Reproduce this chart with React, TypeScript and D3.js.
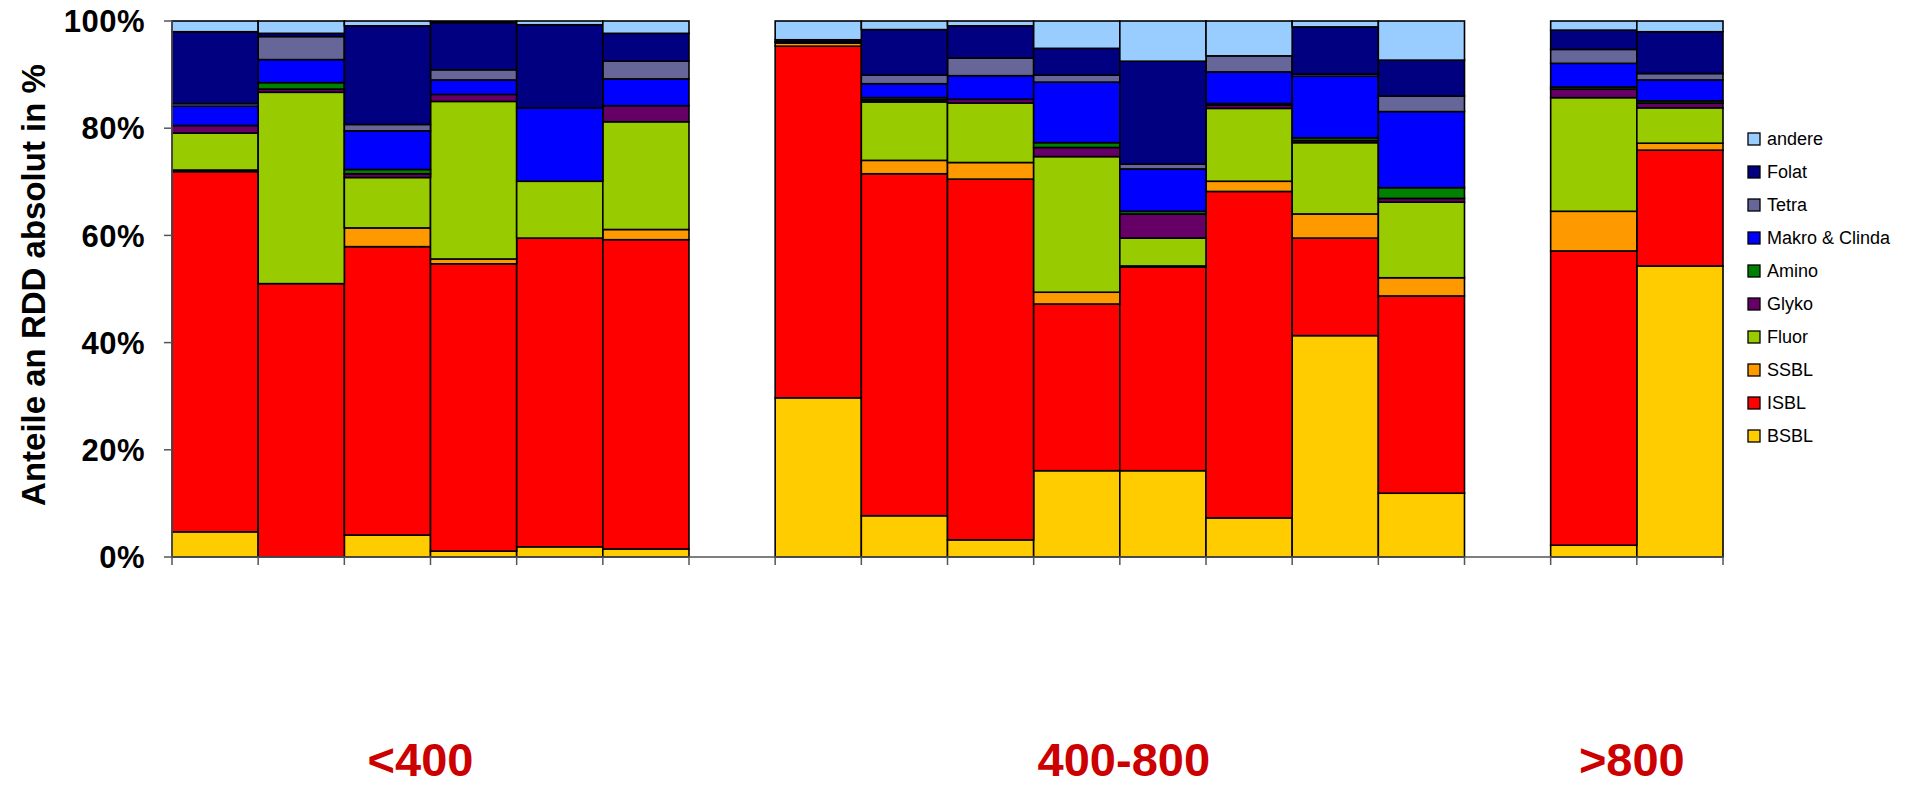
import React from "react";
import * as d3 from "d3";

// ---- data (share of RDD in %, per bar, bottom → top) ----
const groupLabels = ["<400", "400-800", ">800"];
const groupSizes = [6, 8, 2];

const seriesNames = ["BSBL", "ISBL", "SSBL", "Fluor", "Glyko", "Amino", "Makro & Clinda", "Tetra", "Folat", "andere"];
const seriesColors = ["#FFCC00", "#FF0000", "#FF9900", "#99CC00", "#660066", "#008000", "#0000FF", "#666699", "#000080", "#99CCFF"];

const BSBL = [4.7, 0, 4.1, 1.1, 1.9, 1.5, 29.7, 7.7, 3.2, 16.1, 16.1, 7.3, 41.3, 11.9, 2.2, 54.3];
const ISBL = [67.2, 51.0, 53.8, 53.6, 57.6, 57.7, 65.6, 63.8, 67.3, 31.1, 38.0, 60.9, 18.2, 36.8, 54.9, 21.6];
const SSBL = [0.3, 0, 3.5, 0.9, 0, 1.9, 0.6, 2.5, 3.1, 2.2, 0.2, 1.9, 4.5, 3.4, 7.4, 1.3];
const Fluor = [6.9, 35.7, 9.4, 29.4, 10.6, 20.1, 0.2, 10.9, 11.1, 25.3, 5.2, 13.6, 13.3, 14.1, 21.2, 6.6];
const Glyko = [1.4, 0.6, 0.7, 1.3, 0, 3.0, 0, 0.4, 0.7, 1.7, 4.5, 0.6, 0.4, 0.7, 1.6, 0.9];
const Amino = [0, 1.2, 0.8, 0, 0, 0, 0, 0.4, 0, 0.9, 0.5, 0.3, 0.5, 2.0, 0.4, 0.4];
const Makro = [3.6, 4.3, 7.2, 2.7, 13.7, 5.0, 0, 2.6, 4.4, 11.3, 7.9, 5.9, 11.5, 14.2, 4.4, 3.9];
const Tetra = [0.5, 4.3, 1.2, 1.9, 0, 3.3, 0, 1.6, 3.3, 1.3, 0.9, 3.0, 0.4, 2.9, 2.6, 1.2];
const Folat = [13.4, 0.6, 18.4, 8.8, 15.5, 5.2, 0.4, 8.5, 6.0, 5.0, 19.2, 0, 8.8, 6.7, 3.6, 7.8];
const andere = [2.0, 2.3, 0.9, 0.3, 0.7, 2.3, 3.5, 1.6, 0.9, 5.1, 7.5, 6.5, 1.1, 7.3, 1.7, 2.0];

const seriesValues = [BSBL, ISBL, SSBL, Fluor, Glyko, Amino, Makro, Tetra, Folat, andere];
const yTicks = [0, 0.2, 0.4, 0.6, 0.8, 1.0];

export default function App() {
  const W = 1912, H = 786;
  const left = 172, right = 1723, top = 21, bottom = 557;

  // slots: groups separated by one empty slot
  const slotOfBar: number[] = [];
  let s = 0;
  groupSizes.forEach((n, gi) => {
    for (let i = 0; i < n; i++) { slotOfBar.push(s); s++; }
    if (gi < groupSizes.length - 1) s++;
  });
  const nSlots = s;
  const x = d3.scaleBand<number>().domain(d3.range(nSlots)).range([left, right]).padding(0);
  const y = d3.scaleLinear().domain([0, 1]).range([bottom, top]);

  const rows = BSBL.map((_, i) => {
    const r: any = { i };
    seriesNames.forEach((n, k) => (r[n] = seriesValues[k][i]));
    return r;
  });
  const stack = d3.stack<any>().keys(seriesNames).offset(d3.stackOffsetExpand);
  const layers = stack(rows);

  const bw = x.bandwidth();
  let gStart = 0;
  const groupCenters = groupSizes.map((n) => {
    const a = slotOfBar[gStart];
    const b = slotOfBar[gStart + n - 1];
    gStart += n;
    return ((x(a) as number) + (x(b) as number) + bw) / 2;
  });
  const labelShift = [-10, 4, -5];

  const font = "'Liberation Sans', Arial, sans-serif";

  return (
    <svg width={W} height={H} style={{ position: "absolute", left: 0, top: 0, background: "#fff" }}>
      {/* bars */}
      {layers.map((layer, k) => (
        <g key={seriesNames[k]} fill={seriesColors[k]}>
          {layer.map((d, i) => {
            const h = y(d[0]) - y(d[1]);
            if (h <= 0.01) return null;
            return (
              <rect key={i} x={x(slotOfBar[i])} y={y(d[1])} width={bw} height={h}
                stroke="#000" strokeWidth={1.6} />
            );
          })}
        </g>
      ))}
      {/* y axis */}
      <line x1={left} x2={left} y1={top} y2={bottom} stroke="#555" strokeWidth={1.5} />
      {yTicks.map((t) => (
        <g key={t}>
          <line x1={left - 8} x2={left} y1={y(t)} y2={y(t)} stroke="#555" strokeWidth={1.5} />
          <text x={145} y={y(t)} dy="0.36em" textAnchor="end" fontFamily={font} fontWeight="bold" fontSize={31}
            letterSpacing={0.5}>
            {Math.round(t * 100) + "%"}
          </text>
        </g>
      ))}
      {/* x axis */}
      <line x1={left} x2={right} y1={bottom} y2={bottom} stroke="#555" strokeWidth={1.5} />
      {d3.range(nSlots + 1).map((k) => {
        const xx = left + k * bw;
        return <line key={k} x1={xx} x2={xx} y1={bottom} y2={bottom + 8} stroke="#555" strokeWidth={1.5} />;
      })}
      {/* y title */}
      <text transform={`translate(33,285) rotate(-90)`} textAnchor="middle" dy="0.35em"
        fontFamily={font} fontWeight="bold" fontSize={33}>
        Anteile an RDD absolut in %
      </text>
      {/* group labels */}
      {groupLabels.map((g, i) => (
        <text key={g} x={groupCenters[i] + labelShift[i]} y={776} textAnchor="middle" fontFamily={font}
          fontWeight="bold" fontSize={47} fill="#CC0000">
          {g}
        </text>
      ))}
      {/* legend */}
      {seriesNames.slice().reverse().map((n, j) => {
        const k = seriesNames.length - 1 - j;
        const cy = 139 + j * 33;
        return (
          <g key={n}>
            <rect x={1748} y={cy - 6} width={12} height={12} fill={seriesColors[k]} stroke="#000" strokeWidth={1.3} />
            <text x={1767} y={cy} dy="0.35em" fontFamily={font} fontSize={18}>{n}</text>
          </g>
        );
      })}
    </svg>
  );
}
